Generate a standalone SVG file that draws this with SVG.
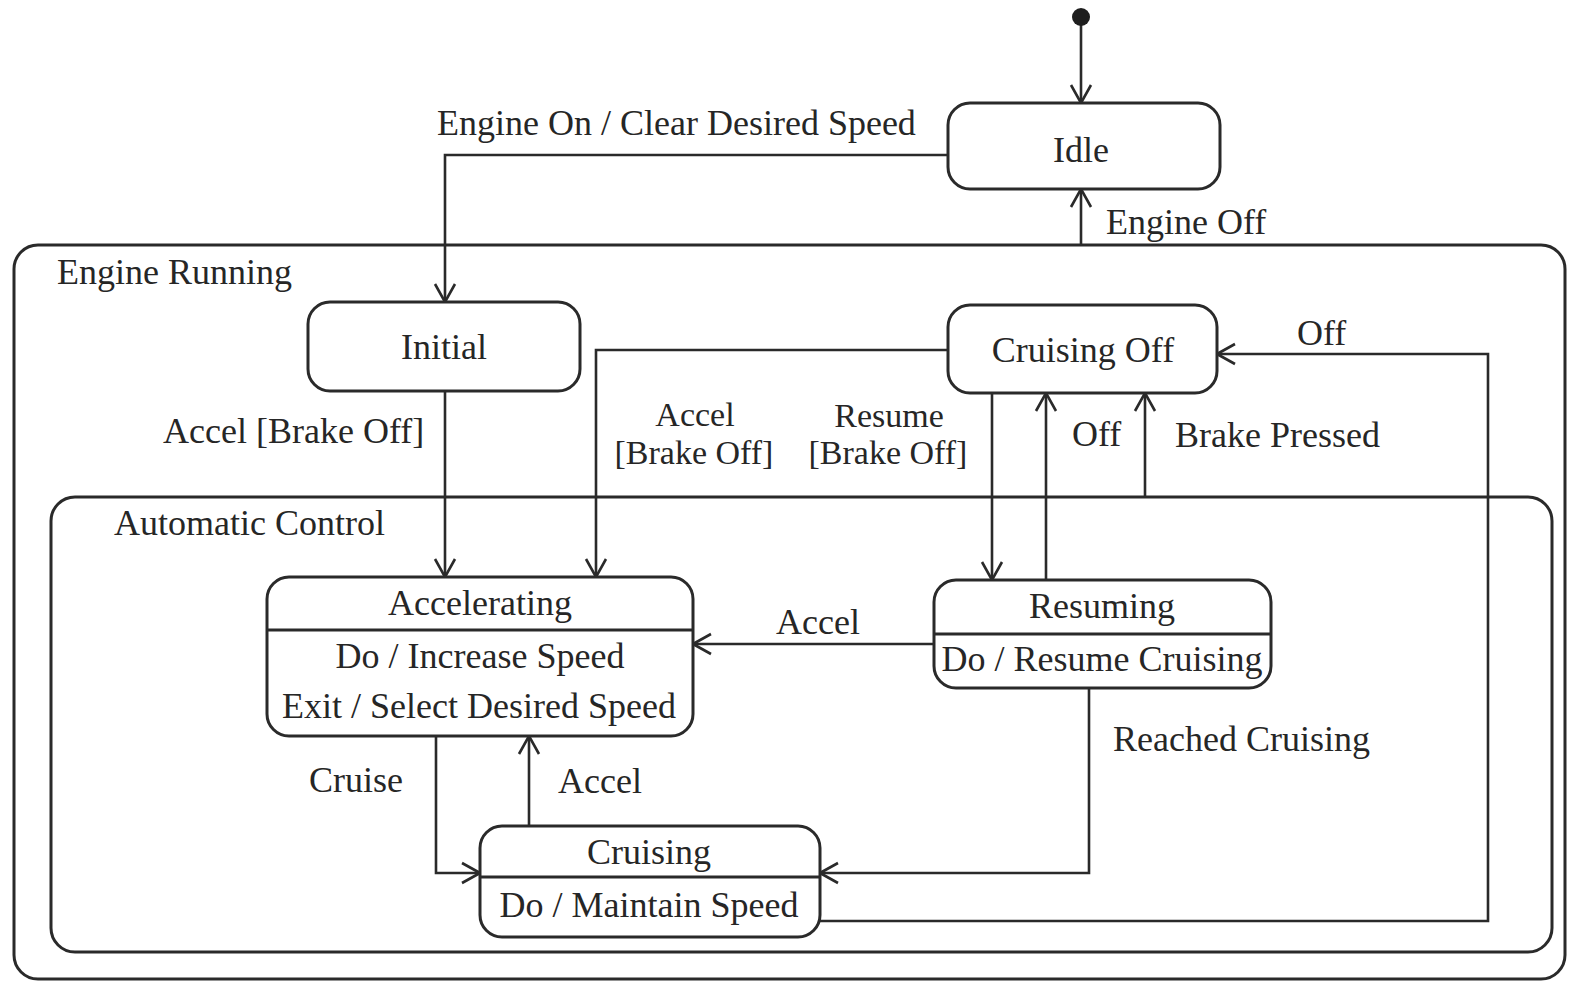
<svg xmlns="http://www.w3.org/2000/svg" width="1595" height="983" viewBox="0 0 1595 983">
  <style>
    .box { fill: none; stroke: #2a2a2a; stroke-width: 3; }
    .state { fill: #ffffff; stroke: #2a2a2a; stroke-width: 3; }
    .div { stroke: #2a2a2a; stroke-width: 3; }
    .edge { fill: none; stroke: #2a2a2a; stroke-width: 2.6; }
    .arrow { marker-end: url(#open); }
    text { font-family: "Liberation Serif", "Times New Roman", serif; font-size: 36px; fill: #262626; }
    .mid { text-anchor: middle; }
    .two { font-size: 34px; }
  </style>
  <defs>
    <marker id="open" viewBox="-20 -12 22 24" refX="0" refY="0" markerWidth="22" markerHeight="24" markerUnits="userSpaceOnUse" orient="auto">
      <path d="M-18,-10 L0,0 L-18,10" fill="none" stroke="#2a2a2a" stroke-width="2.6"/>
    </marker>
  </defs>

  <rect width="1595" height="983" fill="#ffffff"/>

  <!-- composite states -->
  <g id="engine-running">
    <rect class="box" x="14" y="245" width="1551" height="734" rx="24"/>
    <text x="57" y="284">Engine Running</text>
  </g>
  <g id="automatic-control">
    <rect class="box" x="51" y="497" width="1501" height="455" rx="24"/>
    <text x="114" y="535">Automatic Control</text>
  </g>

  <!-- transitions -->
  <g id="connectors">
    <path class="edge arrow" d="M1081,17 L1081,103"/>
    <path class="edge arrow" d="M948,155 L445,155 L445,302"/>
    <path class="edge arrow" d="M1081,245 L1081,189"/>
    <path class="edge arrow" d="M445,391 L445,577"/>
    <path class="edge arrow" d="M948,350 L596,350 L596,577"/>
    <path class="edge arrow" d="M992,393 L992,580"/>
    <path class="edge arrow" d="M1046,580 L1046,393"/>
    <path class="edge arrow" d="M1145,497 L1145,393"/>
    <path class="edge arrow" d="M820,921 L1488,921 L1488,354 L1217,354"/>
    <path class="edge arrow" d="M934,644 L693,644"/>
    <path class="edge arrow" d="M436,736 L436,873 L480,873"/>
    <path class="edge arrow" d="M529,826 L529,736"/>
    <path class="edge arrow" d="M1089,688 L1089,873 L820,873"/>
  </g>

  <!-- transition labels -->
  <g id="labels">
    <text x="437" y="135">Engine On / Clear Desired Speed</text>
    <text x="1106" y="234">Engine Off</text>
    <text x="163" y="443">Accel [Brake Off]</text>
    <text class="mid two" x="695" y="426">Accel</text>
    <text class="mid two" x="694" y="464">[Brake Off]</text>
    <text class="mid two" x="889" y="427">Resume</text>
    <text class="mid two" x="888" y="464">[Brake Off]</text>
    <text x="1072" y="446">Off</text>
    <text x="1175" y="447">Brake Pressed</text>
    <text x="1297" y="345">Off</text>
    <text x="776" y="634">Accel</text>
    <text x="309" y="792">Cruise</text>
    <text x="558" y="793">Accel</text>
    <text x="1113" y="751">Reached Cruising</text>
  </g>

  <!-- pseudo-state -->
  <g id="start">
    <circle cx="1081" cy="17" r="9" fill="#1e1e1e"/>
  </g>

  <!-- simple states -->
  <g id="idle">
    <rect class="state" x="948" y="103" width="272" height="86" rx="22"/>
    <text class="mid" x="1081" y="162">Idle</text>
  </g>
  <g id="initial">
    <rect class="state" x="308" y="302" width="272" height="89" rx="22"/>
    <text class="mid" x="444" y="359">Initial</text>
  </g>
  <g id="cruising-off">
    <rect class="state" x="948" y="305" width="269" height="88" rx="22"/>
    <text class="mid" x="1083" y="362">Cruising Off</text>
  </g>
  <g id="accelerating">
    <rect class="state" x="267" y="577" width="426" height="159" rx="22"/>
    <line class="div" x1="267" y1="630" x2="693" y2="630"/>
    <text class="mid" x="480" y="615">Accelerating</text>
    <text class="mid" x="480" y="668">Do / Increase Speed</text>
    <text class="mid" x="479" y="718">Exit / Select Desired Speed</text>
  </g>
  <g id="resuming">
    <rect class="state" x="934" y="580" width="337" height="108" rx="22"/>
    <line class="div" x1="934" y1="634" x2="1271" y2="634"/>
    <text class="mid" x="1102" y="618">Resuming</text>
    <text class="mid" x="1102" y="671">Do / Resume Cruising</text>
  </g>
  <g id="cruising">
    <rect class="state" x="480" y="826" width="340" height="111" rx="22"/>
    <line class="div" x1="480" y1="877" x2="820" y2="877"/>
    <text class="mid" x="649" y="864">Cruising</text>
    <text class="mid" x="649" y="917">Do / Maintain Speed</text>
  </g>
</svg>
